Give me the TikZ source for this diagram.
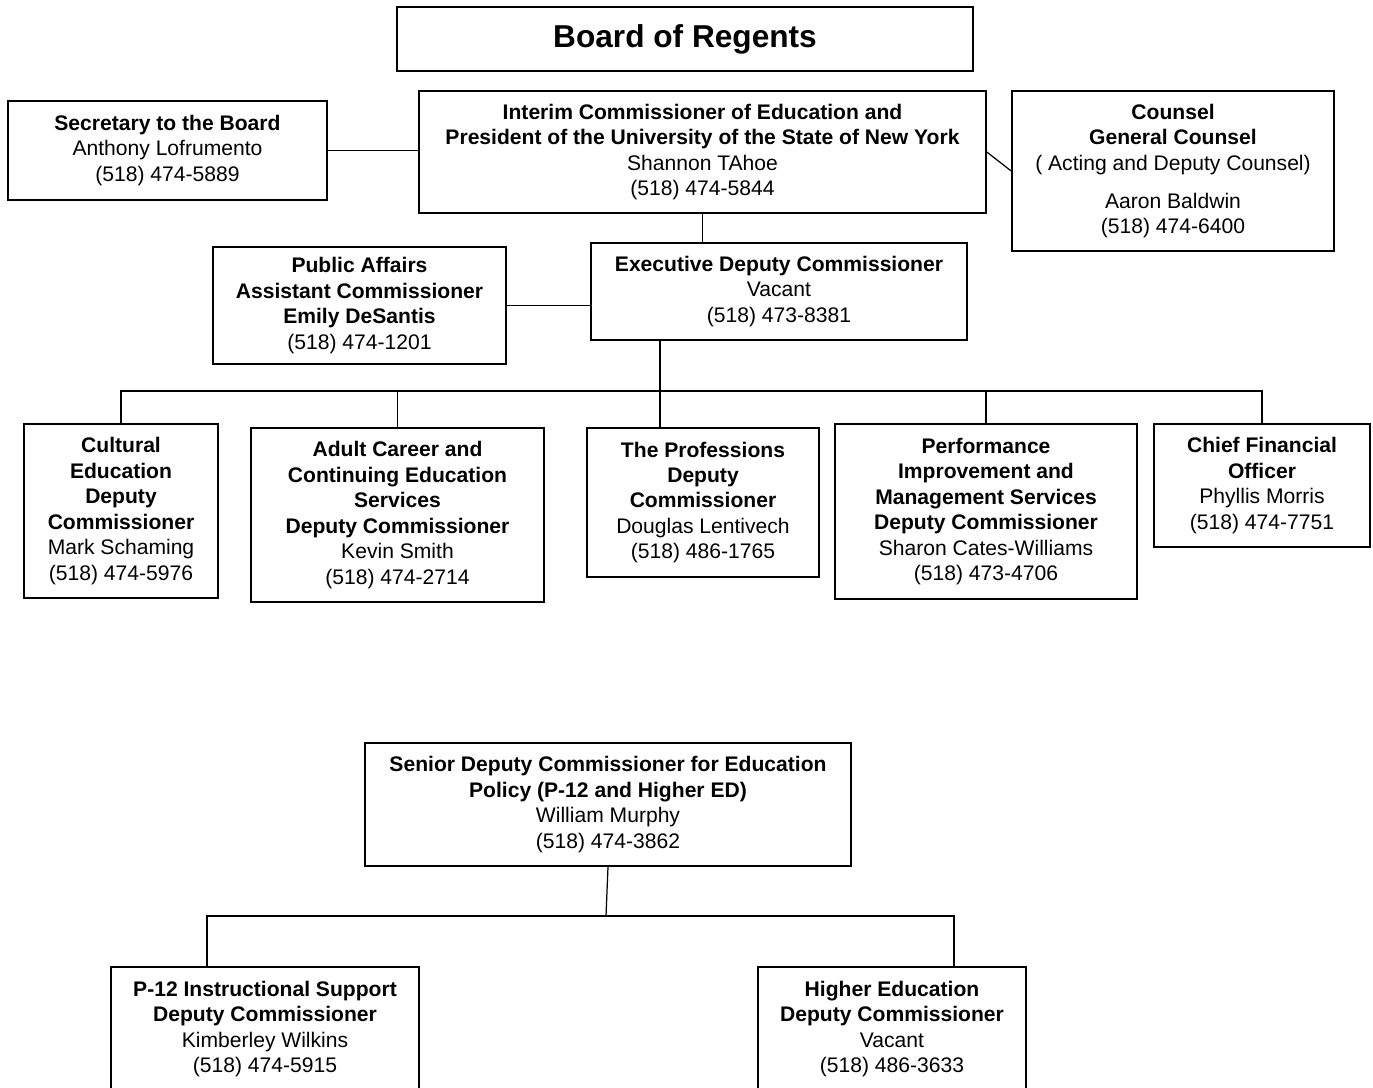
\documentclass[tikz,border=0pt]{standalone}
\usepackage{fontspec}
\setmainfont{Liberation Sans}
\begin{document}
\begin{tikzpicture}[
    orgbox/.style 2 args={draw, line width=0.9pt, align=center, inner sep=0pt,
      minimum width=#1cm, minimum height=#2cm, font=\fontsize{12}{14.5}\selectfont},
  ]
  \useasboundingbox (0,0) rectangle (27.46,-21.74);
  \draw
    (13.70,-0.78) node[orgbox={11.52}{1.28}, font=\fontsize{18}{21}\selectfont\bfseries] (board){Board of Regents}
    (3.35,-3.01) node[orgbox={6.38}{1.98}] (secretary){\textbf{Secretary to the Board}\\Anthony Lofrumento\\(518) 474-5889}
    (14.05,-3.04) node[orgbox={11.34}{2.44}] (interim){\textbf{Interim Commissioner of Education and}\\\textbf{President of the University of the State of New York}\\Shannon TAhoe\\(518) 474-5844}
    (23.46,-3.42) node[orgbox={6.44}{3.20}] (counsel){\textbf{Counsel}\\\textbf{General Counsel}\\( Acting and Deputy Counsel)\\[7pt]Aaron Baldwin\\(518) 474-6400}
    (7.19,-6.11) node[orgbox={5.86}{2.34}] (affairs){\textbf{Public Affairs}\\\textbf{Assistant Commissioner}\\\textbf{Emily DeSantis}\\(518) 474-1201}
    (15.58,-5.83) node[orgbox={7.52}{1.94}] (exec){\textbf{Executive Deputy Commissioner}\\Vacant\\(518) 473-8381}
    (2.42,-10.22) node[orgbox={3.88}{3.48}] (cultural){\textbf{Cultural}\\\textbf{Education}\\\textbf{Deputy}\\\textbf{Commissioner}\\Mark Schaming\\(518) 474-5976}
    (7.95,-10.30) node[orgbox={5.86}{3.48}] (adult){\textbf{Adult Career and}\\\textbf{Continuing Education}\\\textbf{Services}\\\textbf{Deputy Commissioner}\\Kevin Smith\\(518) 474-2714}
    (14.06,-10.05) node[orgbox={4.64}{2.98}] (professions){\textbf{The Professions}\\\textbf{Deputy}\\\textbf{Commissioner}\\Douglas Lentivech\\(518) 486-1765}
    (19.72,-10.23) node[orgbox={6.04}{3.50}] (performance){\textbf{Performance}\\\textbf{Improvement and}\\\textbf{Management Services}\\\textbf{Deputy Commissioner}\\Sharon Cates-Williams\\(518) 473-4706}
    (25.24,-9.71) node[orgbox={4.32}{2.46}] (cfo){\textbf{Chief Financial}\\\textbf{Officer}\\Phyllis Morris\\(518) 474-7751}
    (12.16,-16.09) node[orgbox={9.72}{2.46}] (senior){\textbf{Senior Deputy Commissioner for Education}\\\textbf{Policy (P-12 and Higher ED)}\\William Murphy\\(518) 474-3862}
    (5.30,-20.58) node[orgbox={6.16}{2.48}] (p12){\textbf{P-12 Instructional Support}\\\textbf{Deputy Commissioner}\\Kimberley Wilkins\\(518) 474-5915}
    (17.84,-20.58) node[orgbox={5.36}{2.48}] (higher){\textbf{Higher Education}\\\textbf{Deputy Commissioner}\\Vacant\\(518) 486-3633};
  \begin{scope}[line width=0.7pt]
    \draw (secretary.east) -- (secretary.east -| interim.west);
    \draw (interim.east) -- (counsel.west);
    \draw (interim.south) -- (interim.south |- exec.north);
    \draw (affairs.east) -- (affairs.east -| exec.west);
    \coordinate (hub) at (13.20,-7.82);
    \draw (exec.south -| hub) -- (hub);
    \draw (cultural.north) |- (hub) -| (cfo.north);
    \draw (adult.north) -- (adult.north |- hub);
    \draw (performance.north) -- (performance.north |- hub);
    \draw (hub) -- (hub |- professions.north);
    \coordinate (split) at (12.12,-18.32);
    \draw (senior.south) -- (split);
    \draw ([xshift=-1.16cm]p12.north) |- (split) -| ([xshift=1.24cm]higher.north);
  \end{scope}
\end{tikzpicture}
\end{document}
